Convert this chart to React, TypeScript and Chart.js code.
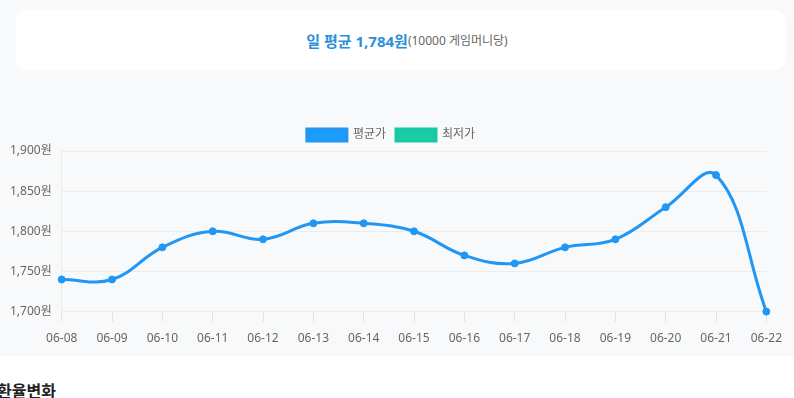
import React, { useEffect, useRef } from "react";
import { Chart, registerables } from "chart.js";

Chart.register(...registerables);

const dates = ["06-08", "06-09", "06-10", "06-11", "06-12", "06-13", "06-14", "06-15", "06-16", "06-17", "06-18", "06-19", "06-20", "06-21", "06-22"];
const averagePrice = [1740, 1740, 1780, 1800, 1790, 1810, 1810, 1800, 1770, 1760, 1780, 1790, 1830, 1870, 1700];
const lowestPrice: (number | null)[] = [];
const seriesLabels = ["평균가", "최저가"];
const yMin = 1700;
const yMax = 1900;
const yStep = 50;

const FONT = "'Noto Sans', 'Noto Sans CJK KR', sans-serif";

export default function App() {
  const canvasRef = useRef<HTMLCanvasElement | null>(null);

  useEffect(() => {
    if (!canvasRef.current) return;
    const chart = new Chart(canvasRef.current, {
      type: "line",
      data: {
        labels: dates,
        datasets: [
          {
            label: seriesLabels[0],
            data: averagePrice,
            borderColor: "#2196f3",
            backgroundColor: "#1a9cfc",
            borderWidth: 3,
            pointRadius: 3.5,
            pointBackgroundColor: "#2196f3",
            pointBorderColor: "#2196f3",
            pointBorderWidth: 1,
            tension: 0.4,
            fill: false,
            clip: false,
          },
          {
            label: seriesLabels[1],
            data: lowestPrice,
            borderColor: "#17c9a2",
            backgroundColor: "#19cea6",
            borderWidth: 3,
            pointRadius: 3.5,
            tension: 0.4,
            fill: false,
          },
        ],
      },
      options: {
        animation: false,
        responsive: true,
        maintainAspectRatio: false,
        layout: { padding: { left: 0, right: 0, top: 19, bottom: 0 } },
        plugins: {
          legend: {
            display: true,
            position: "top",
            labels: {
              boxWidth: 40,
              boxHeight: 12,
              color: "#666",
              font: { family: FONT, size: 12 },
            },
          },
          tooltip: { enabled: false },
        },
        scales: {
          x: {
            grid: {
              drawOnChartArea: false,
              drawTicks: true,
              tickLength: 10,
              color: "#e3e3e3",
            },
            border: { display: false },
            ticks: {
              color: "#666",
              padding: 10,
              maxRotation: 0,
              autoSkip: false,
              font: { family: FONT, size: 12 },
            },
            afterFit: (s: any) => {
              s.paddingRight = Math.max(s.paddingRight - 10, 0);
            },
          },
          y: {
            min: yMin,
            max: yMax,
            grid: { color: "#ececec", drawTicks: false },
            border: { display: true, color: "#ececec" },
            ticks: {
              stepSize: yStep,
              color: "#666",
              padding: 10,
              font: { family: FONT, size: 12 },
              callback: (v: any) => Number(v).toLocaleString("en-US") + "원",
            },
          },
        },
      },
    });
    return () => chart.destroy();
  }, []);

  return (
    <div style={{ position: "absolute", left: 0, top: 0, width: 794, height: 398, background: "#fff", overflow: "hidden", fontFamily: FONT }}>
      <div style={{ position: "absolute", left: 0, top: 0, width: 794, height: 356, background: "#f8f9fa" }} />
      <div
        style={{
          position: "absolute",
          left: 16,
          top: 10,
          width: 770,
          height: 60,
          background: "#fff",
          borderRadius: 10,
          display: "flex",
          alignItems: "center",
          justifyContent: "center",
        }}
      >
        <span style={{ color: "#2b8fdb", fontWeight: 700, fontSize: 15, marginLeft: 12 }}>일 평균 1,784원</span>
        <span style={{ color: "#666", fontSize: 12 }}>(10000 게임머니당)</span>
      </div>
      <div style={{ position: "absolute", left: 0, top: 100, width: 782, height: 256 }}>
        <canvas ref={canvasRef} />
      </div>
      <div style={{ position: "absolute", left: -3, top: 378, fontSize: 16, fontWeight: 700, color: "#222" }}>환율변화</div>
    </div>
  );
}
